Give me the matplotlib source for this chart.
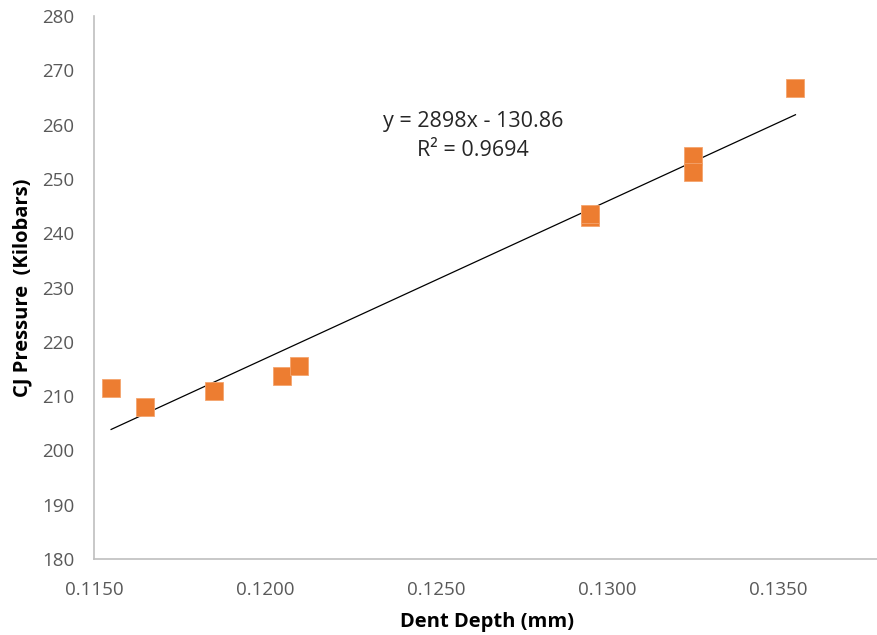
import matplotlib
matplotlib.use("Agg")
import matplotlib.pyplot as plt
import numpy as np

plt.rcParams['font.family'] = ['Open Sans', 'DejaVu Sans']

dent_depth = [0.1155, 0.1165, 0.1185, 0.1205, 0.1210, 0.1295, 0.1295, 0.1325, 0.1325, 0.1355]
cj_pressure = [211.5, 208.0, 211.0, 213.7, 215.5, 243.0, 243.5, 254.2, 251.3, 266.8]
slope = 2898.0
intercept = -130.86
r_squared = 0.9694
x_ticks = [0.1150, 0.1200, 0.1250, 0.1300, 0.1350]
y_ticks = [180, 190, 200, 210, 220, 230, 240, 250, 260, 270, 280]

fig = plt.figure(figsize=(8.77, 6.35), dpi=100)
W, H = 877, 635
left, right, top, bottom = 94, 881, 16, 559
ax = fig.add_axes([left / W, 1 - bottom / H, (right - left) / W, (bottom - top) / H])

ax.plot(dent_depth, cj_pressure, linestyle='none', marker='s', markersize=12.5,
        color='#ED7D31', markeredgecolor='#F4A46E', markeredgewidth=0.6, zorder=3)

xs = np.array([min(dent_depth), max(dent_depth)])
ax.plot(xs, slope * xs + intercept, color='black', linewidth=0.9, zorder=2)

ax.set_xlim(0.1150, 0.1380)
ax.set_ylim(180, 280)
ax.set_xticks(x_ticks)
ax.set_xticklabels([f"{v:.4f}" for v in x_ticks])
ax.set_yticks(y_ticks)
ax.tick_params(length=0, labelsize=13.5, colors='#595959')
ax.tick_params(axis='y', pad=14)
ax.tick_params(axis='x', pad=16)
for s in ['top', 'right']:
    ax.spines[s].set_visible(False)
for s in ['left', 'bottom']:
    ax.spines[s].set_color('#BFBFBF')
    ax.spines[s].set_linewidth(1.2)

ax.set_xlabel('Dent Depth (mm)', fontsize=14.5, fontweight='bold', color='black', labelpad=9)
ax.set_ylabel('CJ Pressure  (Kilobars)', fontsize=14.5, fontweight='bold', color='black', labelpad=7)

sign = '-' if intercept < 0 else '+'
cx = (473 - left) / (right - left)
ax.text(cx, 1 - (122 - top) / (bottom - top),
        f"y = {slope:.0f}x {sign} {abs(intercept):.2f}", transform=ax.transAxes,
        ha='center', va='center', fontsize=15.5, color='#262626')
ax.text(cx, 1 - (151 - top) / (bottom - top),
        f"R² = {r_squared:.4f}", transform=ax.transAxes,
        ha='center', va='center', fontsize=15.5, color='#262626')

fig.savefig('out.png', dpi=100)
